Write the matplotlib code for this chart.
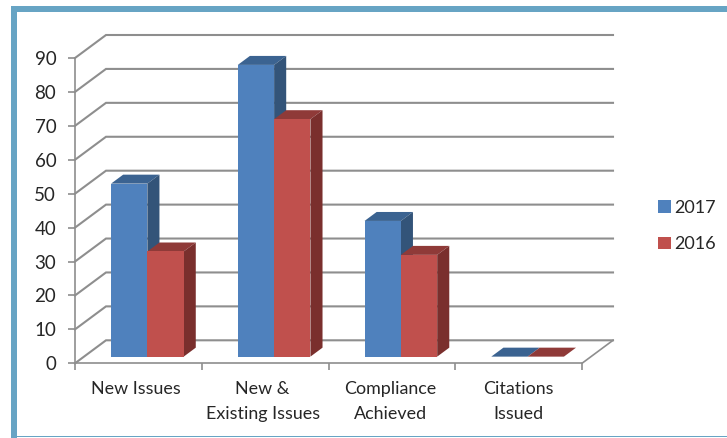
import matplotlib
matplotlib.use('Agg')
import matplotlib.pyplot as plt
from matplotlib.patches import Polygon, Patch, Rectangle

plt.rcParams['font.family'] = ['Lato', 'DejaVu Sans']

# Data
categories = ['New Issues', 'New &\nExisting Issues', 'Compliance\nAchieved', 'Citations\nIssued']
values_2017 = [51, 86, 40, 0]
values_2016 = [31, 70, 30, 0]
y_ticks = [0, 10, 20, 30, 40, 50, 60, 70, 80, 90]

W, H = 727, 438
GRID = '#8e8e8e'
TEXT = '#262626'
BORDER = '#67a4c4'
BLUE = ('#4f81bd', '#3b6391', '#335479')
RED = ('#c0504d', '#8f3a38', '#7a2f2d')

fig = plt.figure(figsize=(W / 100, H / 100), dpi=100)

# frame round the chart
for x, y, w, h in [(11, 6, 716, 6), (11, 6, 6, 432), (11, 435.7, 716, 1.3)]:
    fig.add_artist(Rectangle((x / W, 1 - (y + h) / H), w / W, h / H,
                             transform=fig.transFigure, color=BORDER, lw=0))

# axes: front plane of the 3d box, 75..582 px across, 363.3..58 px down
ax = fig.add_axes([75 / W, 1 - 363.3 / H, 507 / W, 305.3 / H])
ax.set_xlim(0, 4)
ax.set_ylim(0, 90)
ax.patch.set_alpha(0)

# depth of the box in data units
px_x = 4 / 507
px_y = 90 / 305.3
box_dx = 31 * px_x
box_dy = 23 * px_y


def shift(depth):
    return depth * box_dx, depth * box_dy


# walls and grid
for v in y_ticks:
    ax.plot([0, box_dx, 4 + box_dx], [v, v + box_dy, v + box_dy], color=GRID, lw=1.5,
            clip_on=False, zorder=1, solid_joinstyle='miter')
ax.plot([4, 4 + box_dx], [0, box_dy], color=GRID, lw=1.2, clip_on=False, zorder=1)

bar_w = 0.2865
d0, d1 = 0.29, 0.68


def draw_bar(left, value, colors, z):
    right = left + bar_w
    x0, y0 = shift(d0)
    x1, y1 = shift(d1)
    top = [(left + x0, value + y0), (right + x0, value + y0),
           (right + x1, value + y1), (left + x1, value + y1)]
    ax.add_patch(Polygon(top, closed=True, fc=colors[1], ec='none', clip_on=False, zorder=z))
    if value > 0:
        side = [(right + x0, y0), (right + x1, y1),
                (right + x1, value + y1), (right + x0, value + y0)]
        ax.add_patch(Polygon(side, closed=True, fc=colors[2], ec='none', clip_on=False, zorder=z))
        front = [(left + x0, y0), (right + x0, y0),
                 (right + x0, value + y0), (left + x0, value + y0)]
        ax.add_patch(Polygon(front, closed=True, fc=colors[0], ec='none', clip_on=False, zorder=z))


for i in range(len(categories)):
    center = i + 0.5
    draw_bar(center - bar_w, values_2017[i], BLUE, 3)
    draw_bar(center, values_2016[i], RED, 4)

# axes lines, ticks, labels
for s in ['top', 'right']:
    ax.spines[s].set_visible(False)
for s in ['left', 'bottom']:
    ax.spines[s].set_color(GRID)
    ax.spines[s].set_linewidth(1.2)
    ax.spines[s].set_zorder(2)

ax.set_yticks(y_ticks)
ax.tick_params(axis='y', length=5, width=1.2, color=GRID, labelcolor=TEXT, labelsize=13.5, pad=8.5)
ax.set_xticks([0, 1, 2, 3, 4])
ax.set_xticklabels([])
ax.tick_params(axis='x', which='major', length=5, width=1.2, color=GRID)
ax.set_xticks([0.48, 1.48, 2.49, 3.5], minor=True)
ax.set_xticklabels(categories, minor=True, fontsize=12.9, color=TEXT, linespacing=1.65)
ax.tick_params(axis='x', which='minor', length=0, pad=13)

handles = [Patch(fc=BLUE[0], label='2017'), Patch(fc=RED[0], label='2016')]
fig.legend(handles=handles, loc='center left', bbox_to_anchor=(642 / W, 1 - 226 / H),
           frameon=False, fontsize=13, labelcolor=TEXT, handlelength=0.68, handleheight=0.68,
           handletextpad=0.2, labelspacing=1.12)

fig.savefig('out.png', dpi=100)
